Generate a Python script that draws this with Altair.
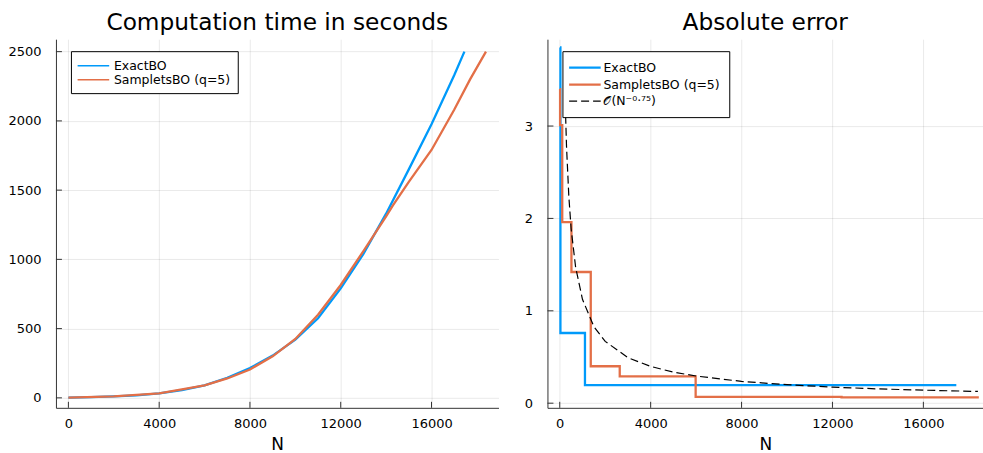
import altair as alt
import pandas as pd

FONT = "DejaVu Sans"
BLUE = "#009AFA"
ORANGE = "#E36F47"

# ---------------- data: computation time ----------------
time_N_exact = [0, 1000, 2000, 3000, 4000, 5000, 6000, 7000, 8000, 9000, 10000,
                11000, 12000, 13000, 14000, 15000, 16000, 17000, 17450]
time_exact = [2, 5, 10, 18, 32, 55, 90, 145, 215, 305, 420,
              575, 790, 1040, 1330, 1650, 1975, 2330, 2500]
time_N_samplets = [0, 2000, 4000, 6000, 7000, 8000, 9000, 10000, 11000, 12000,
                   13000, 14000, 14300, 15000, 16000, 17000, 17700, 18400]
time_samplets = [2, 10, 32, 90, 140, 205, 300, 425, 600, 815,
                 1060, 1310, 1390, 1560, 1790, 2080, 2300, 2500]

# ---------------- data: absolute error ----------------
err_N_exact = [10, 30, 1110, 17450]
err_exact = [3.85, 0.76, 0.195, 0.195]
err_N_samplets = [5, 15, 110, 515, 1365, 2640, 5980, 12400, 18440]
err_samplets = [3.40, 3.01, 1.96, 1.42, 0.40, 0.29, 0.068, 0.063, 0.063]
rate_N = [200, 250, 300, 400, 500, 700, 1000, 1500, 2000, 3000, 4000, 5000,
          6000, 8000, 10000, 12000, 14000, 16000, 18400]
rate_val = [3.76, 3.18, 2.77, 2.24, 1.89, 1.47, 1.125, 0.83, 0.669, 0.493, 0.398,
            0.336, 0.294, 0.236, 0.200, 0.174, 0.155, 0.141, 0.127]

# tick labels
x_ticks = [0, 4000, 8000, 12000, 16000]
time_ticks = [0, 500, 1000, 1500, 2000, 2500]
err_ticks = [0, 1, 2, 3]

S_EXACT = "ExactBO"
S_SAMP = "SampletsBO (q=5)"
S_RATE = "𝒪(N⁻⁰·⁷⁵)"

df_time = pd.concat([
    pd.DataFrame({"N": time_N_exact, "v": time_exact, "series": S_EXACT}),
    pd.DataFrame({"N": time_N_samplets, "v": time_samplets, "series": S_SAMP}),
])
df_err_steps = pd.concat([
    pd.DataFrame({"N": err_N_exact, "v": err_exact, "series": S_EXACT}),
    pd.DataFrame({"N": err_N_samplets, "v": err_samplets, "series": S_SAMP}),
])
df_rate = pd.DataFrame({"N": rate_N, "v": rate_val, "series": S_RATE})

W1, W2, H = 443, 436, 369
AXIS_COLOR = "#333333"


def x_axis():
    return alt.Axis(values=x_ticks, format="d", title="N", grid=True,
                    gridColor="#000000", gridOpacity=0.09, gridWidth=1,
                    domainColor=AXIS_COLOR, domainWidth=1, tickSize=0,
                    labelPadding=10, labelFontSize=13, labelFont=FONT,
                    labelColor="#000000", titleFont=FONT, titleFontSize=17,
                    titleFontWeight="normal", titleColor="#000000", titlePadding=6)


def y_axis(vals):
    return alt.Axis(values=vals, format="d", title=None, grid=True,
                    gridColor="#000000", gridOpacity=0.09, gridWidth=1,
                    domainColor=AXIS_COLOR, domainWidth=1, tickSize=0,
                    labelPadding=15, labelFontSize=13, labelFont=FONT,
                    labelColor="#000000")


def legend(pad, rowpad, soff, loff):
    return alt.Legend(orient="none", legendX=15, legendY=12, title=None,
                      fillColor="white", strokeColor="#000000",
                      cornerRadius=0, padding=pad, symbolType="M-2.5,0H2.5",
                      symbolSize=160, symbolOffset=soff, labelOffset=loff,
                      labelFont=FONT, labelFontSize=12.5, labelColor="#000000",
                      rowPadding=rowpad)


# ---------------- left panel ----------------
xs1 = alt.Scale(domain=[-549, 18952], nice=False, zero=False)
ys1 = alt.Scale(domain=[-72, 2590], nice=False, zero=False)

lines1 = alt.Chart(df_time).mark_line(strokeWidth=2.3, clip=True).encode(
    x=alt.X("N:Q", scale=xs1, axis=x_axis()),
    y=alt.Y("v:Q", scale=ys1, axis=y_axis(time_ticks)),
    color=alt.Color("series:N", scale=alt.Scale(domain=[S_EXACT, S_SAMP], range=[BLUE, ORANGE]),
                    legend=legend(7, 0, 8, 13)),
    detail="series:N",
)
xt1 = alt.Chart(pd.DataFrame({"N": x_ticks})).mark_rule(color=AXIS_COLOR, strokeWidth=1).encode(
    x=alt.X("N:Q", scale=xs1), y=alt.value(H), y2=alt.value(H - 6))
yt1 = alt.Chart(pd.DataFrame({"v": time_ticks})).mark_rule(color=AXIS_COLOR, strokeWidth=1).encode(
    y=alt.Y("v:Q", scale=ys1), x=alt.value(0), x2=alt.value(6))

left = alt.layer(lines1, xt1, yt1).properties(
    width=W1, height=H,
    title=alt.TitleParams("Computation time in seconds", font=FONT, fontSize=23.3,
                          fontWeight="normal", color="#000000", offset=4, anchor="middle"))

# ---------------- right panel ----------------
xs2 = alt.Scale(domain=[-541, 18624], nice=False, zero=False)
ys2 = alt.Scale(domain=[-0.05, 3.94], nice=False, zero=False)
cscale = alt.Scale(domain=[S_EXACT, S_SAMP, S_RATE], range=[BLUE, ORANGE, "#000000"])
dscale = alt.Scale(domain=[S_EXACT, S_SAMP, S_RATE], range=[[1, 0], [1, 0], [8, 4]])
wscale = alt.Scale(type="ordinal", domain=[S_EXACT, S_SAMP, S_RATE], range=[2.3, 2.3, 1.2])
leg2 = legend(9, 3, 6, 11)

steps = alt.Chart(df_err_steps).mark_line(interpolate="step-after", clip=True).encode(
    x=alt.X("N:Q", scale=xs2, axis=x_axis()),
    y=alt.Y("v:Q", scale=ys2, axis=y_axis(err_ticks)),
    color=alt.Color("series:N", scale=cscale, legend=leg2),
    strokeDash=alt.StrokeDash("series:N", scale=dscale, legend=leg2),
    strokeWidth=alt.StrokeWidth("series:N", scale=wscale, legend=leg2),
)
rate = alt.Chart(df_rate).mark_line(clip=True).encode(
    x=alt.X("N:Q", scale=xs2),
    y=alt.Y("v:Q", scale=ys2),
    color=alt.Color("series:N", scale=cscale, legend=leg2),
    strokeDash=alt.StrokeDash("series:N", scale=dscale, legend=leg2),
    strokeWidth=alt.StrokeWidth("series:N", scale=wscale, legend=leg2),
)
xt2 = alt.Chart(pd.DataFrame({"N": x_ticks})).mark_rule(color=AXIS_COLOR, strokeWidth=1).encode(
    x=alt.X("N:Q", scale=xs2), y=alt.value(H), y2=alt.value(H - 6))
yt2 = alt.Chart(pd.DataFrame({"v": err_ticks})).mark_rule(color=AXIS_COLOR, strokeWidth=1).encode(
    y=alt.Y("v:Q", scale=ys2), x=alt.value(0), x2=alt.value(6))

right = alt.layer(steps, rate, xt2, yt2).properties(
    width=W2, height=H,
    title=alt.TitleParams("Absolute error", font=FONT, fontSize=23.3,
                          fontWeight="normal", color="#000000", offset=4, anchor="middle"))

chart = alt.hconcat(left, right, spacing=25).resolve_scale(
    color="independent", strokeDash="independent", strokeWidth="independent",
    x="independent", y="independent"
).resolve_legend(color="independent", strokeDash="independent", strokeWidth="independent").properties(
    padding={"left": 7, "top": 10, "right": 0, "bottom": 0},
    background="white",
).configure_view(strokeWidth=0)

chart.save("out.html", embed_options={"renderer": "svg", "actions": False})
